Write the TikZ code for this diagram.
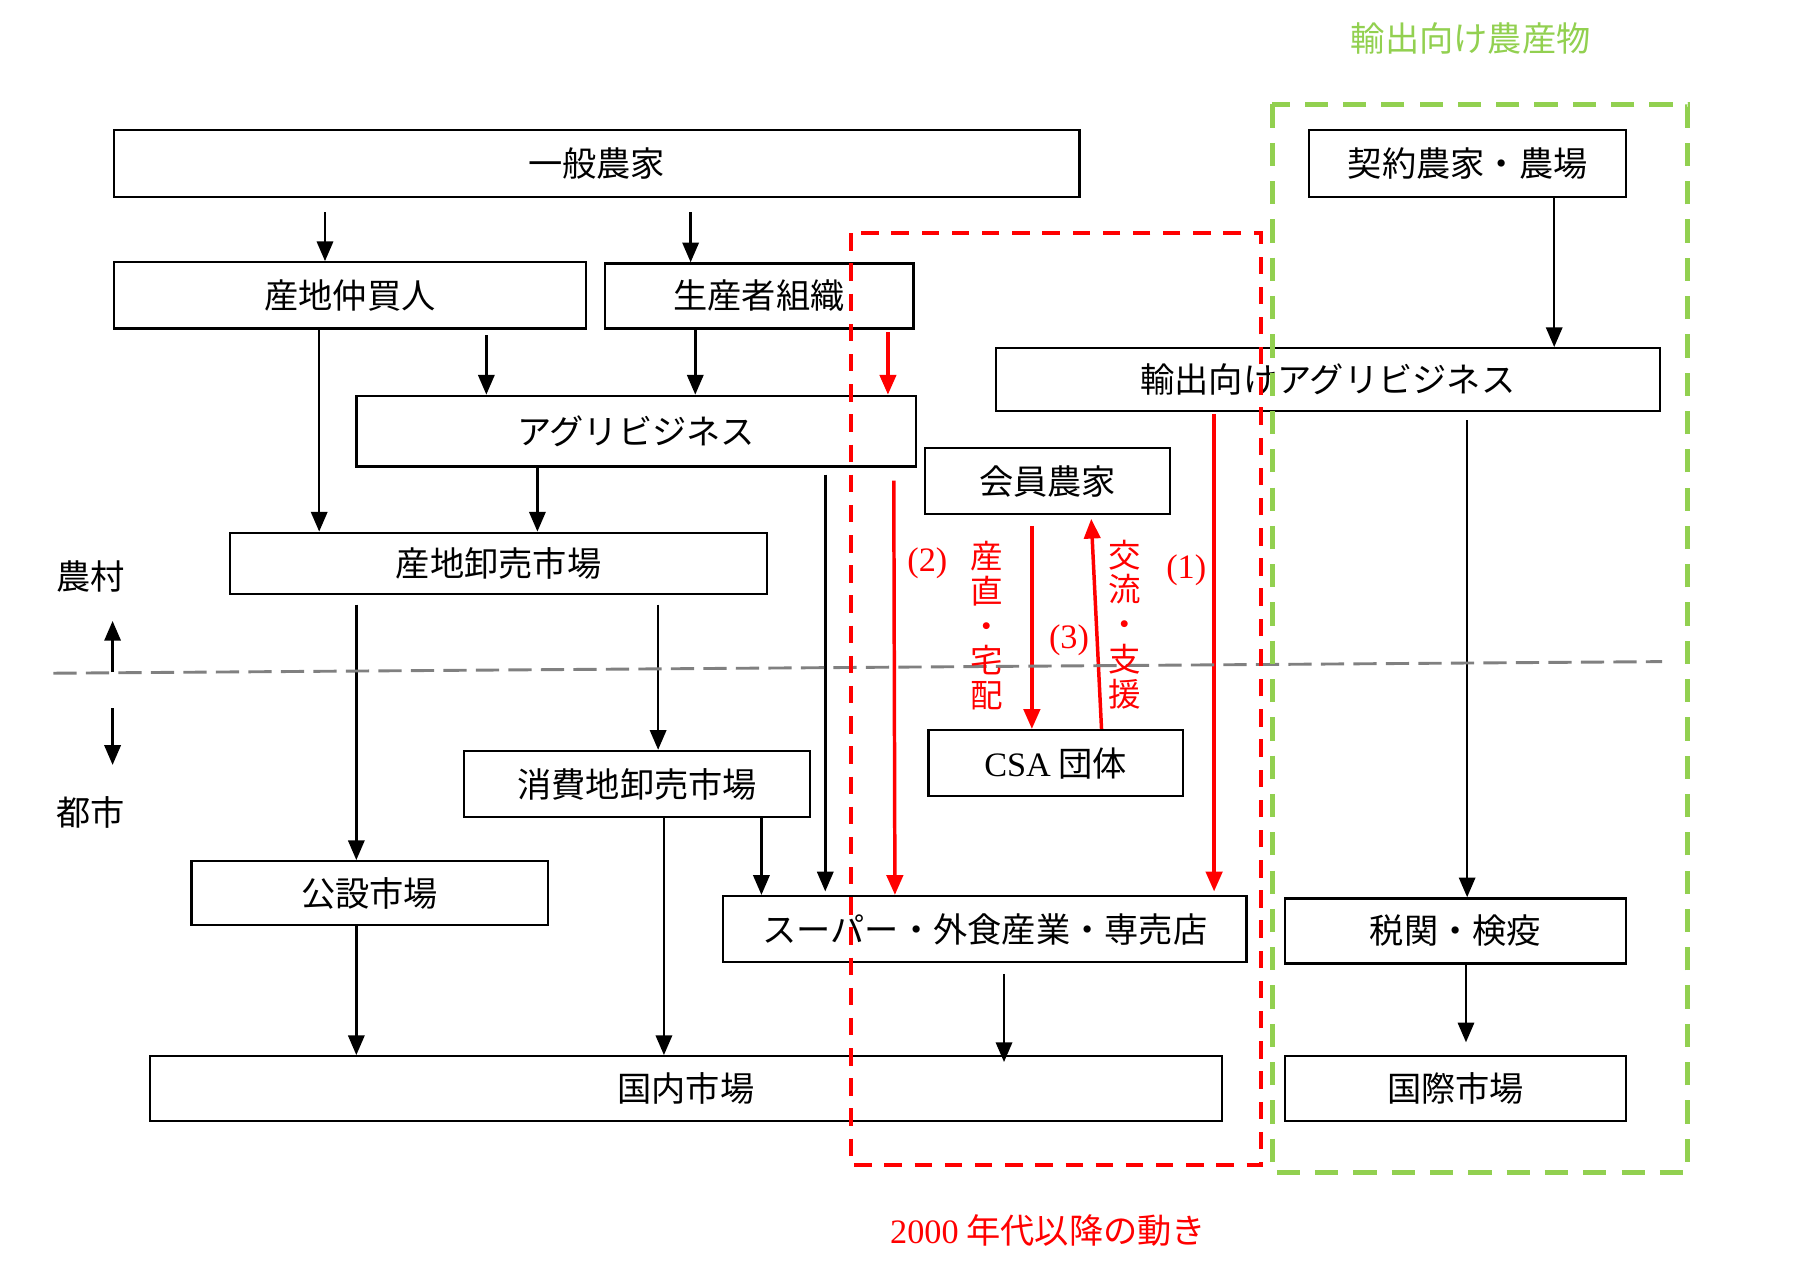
\documentclass[tikz,border=0pt]{standalone}
\usepackage{fontspec}
\setmainfont{Liberation Serif}
\newfontfamily\jp{Noto Sans CJK JP}
\usetikzlibrary{arrows.meta}
\definecolor{exgreen}{RGB}{146,208,80}
\definecolor{dgray}{RGB}{128,128,128}
\begin{document}
\begin{tikzpicture}[x=1pt,y=-1pt,
  box/.style={draw=black, line width=2pt, inner sep=0pt, font=\jp\fontsize{29.5}{34}\selectfont},
  arr/.style={draw=black, line width=2.2pt, -{Triangle[length=17pt,width=14pt]}},
  rarr/.style={draw=red, line width=3pt, -{Triangle[length=17pt,width=14pt]}},
  lbl/.style={font=\jp\fontsize{29.5}{34}\selectfont, inner sep=0pt},
  vlbl/.style={font=\jp\fontsize{28}{30}\selectfont, inner sep=0pt, align=center, text=red},
  ]
\path[use as bounding box] (0,0) rectangle (1568,1092);

% boxes
\node[box, minimum width=832pt, minimum height=58pt] (ippan) at (514,141) {一般農家};
\node[box, minimum width=407pt, minimum height=57pt] (nakagai) at (301.5,254.5) {産地仲買人};
\node[box, minimum width=266pt, minimum height=56pt] (seisan) at (654,255) {生産者組織};
\node[box, minimum width=482pt, minimum height=61pt] (agri) at (548,371.5) {アグリビジネス};
\node[box, minimum width=463pt, minimum height=53pt] (sanchi) at (429.5,485.5) {産地卸売市場};
\node[box, minimum width=298pt, minimum height=57pt] (shohi) at (549,675.5) {消費地卸売市場};
\node[box, minimum width=307pt, minimum height=55pt] (kosetsu) at (318.5,769.5) {公設市場};
\node[box, minimum width=451pt, minimum height=57pt] (super) at (848.5,800.5) {スーパー・外食産業・専売店};
\node[box, minimum width=924pt, minimum height=56pt] (kokunai) at (591,938) {国内市場};
\node[box, minimum width=273pt, minimum height=58pt] (keiyaku) at (1264.5,141) {契約農家・農場};
\node[box, minimum width=572pt, minimum height=54pt] (yushutsu) at (1144,327) {輸出向けアグリビジネス};
\node[box, minimum width=211pt, minimum height=57pt] (kaiin) at (902.5,414.5) {会員農家};
\node[box, minimum width=219pt, minimum height=57pt] (csa) at (909.5,657.5) {{\rmfamily CSA} 団体};
\node[box, minimum width=294pt, minimum height=56pt] (zeikan) at (1254,802) {税関・検疫};
\node[box, minimum width=294pt, minimum height=56pt] (kokusai) at (1254,938) {国際市場};

% black arrows
\draw[arr, shorten <=12pt] (ippan.south -| 280,0) -- (nakagai.north -| 280,0);
\draw[arr, shorten <=12pt] (ippan.south -| 595,0) -- (seisan.north -| 595,0);
\draw[arr] (nakagai.south -| 275,0) -- (sanchi.north -| 275,0);
\draw[arr, shorten <=5pt] (nakagai.south -| 419,0) -- (agri.north -| 419,0);
\draw[arr] (seisan.south -| 599,0) -- (agri.north -| 599,0);
\draw[arr] (agri.south -| 463,0) -- (sanchi.north -| 463,0);
\draw[arr, shorten <=8pt] (sanchi.south -| 307,0) -- (kosetsu.north -| 307,0);
\draw[arr, shorten <=8pt] (sanchi.south -| 567,0) -- (shohi.north -| 567,0);
\draw[arr, shorten <=6pt, shorten >=3pt] (agri.south -| 711,0) -- (super.north -| 711,0);
\draw[arr] (shohi.south -| 656,0) -- (super.north -| 656,0);
\draw[arr] (shohi.south -| 572,0) -- (kokunai.north -| 572,0);
\draw[arr] (kosetsu.south -| 307,0) -- (kokunai.north -| 307,0);
\draw[arr, shorten <=9pt, shorten >=-6pt] (super.south -| 865,0) -- (kokunai.north -| 865,0);
\draw[arr] (keiyaku.south -| 1339,0) -- (yushutsu.north -| 1339,0);
\draw[arr, shorten <=7pt] (yushutsu.south -| 1264,0) -- (zeikan.north -| 1264,0);
\draw[arr, shorten >=11pt] (zeikan.south -| 1263,0) -- (kokusai.north -| 1263,0);

% red arrows
\draw[rarr, shorten <=2pt] (seisan.south -| 765,0) -- (agri.north -| 765,0);
\draw[rarr, shorten <=11pt] (agri.south -| 770,0) -- (super.north -| 771,0);
\draw[rarr, shorten <=9pt] (kaiin.south -| 889,0) -- (csa.north -| 889,0);
\draw[rarr, shorten >=3pt] (csa.north -| 949,0) -- (kaiin.south -| 940,0);
\draw[rarr, shorten <=2pt, shorten >=3pt] (yushutsu.south -| 1046,0) -- (super.north -| 1046,0);

% rural / urban divider
\coordinate (divl) at (46,580);
\coordinate (divr) at (1432,570);
\draw[dgray, line width=2.5pt, dash pattern=on 20pt off 8pt] (divl) -- (divr);
\node[lbl] (noson) at (78,497) {農村};
\node[lbl] (toshi) at (78,700) {都市};
\coordinate (upfrom) at (97,579);
\coordinate (upto) at (97,535);
\coordinate (dnfrom) at (97,610);
\coordinate (dnto) at (97,659);
\draw[arr] (upfrom) -- (upto);
\draw[arr] (dnfrom) -- (dnto);

% group frames
\draw[red, line width=3.5pt, dash pattern=on 15pt off 11pt] (733,201) rectangle (1086,1004);
\draw[exgreen, line width=4.5pt, dash pattern=on 20pt off 13pt] (1096,90) rectangle (1454,1010);

% labels
\node[lbl, text=exgreen] (tgreen) at (1267,33) {輸出向け農産物};
\node[lbl, text=red] (tred) at (903,1060) {{\rmfamily 2000} 年代以降の動き};
\node[lbl, text=red] (l2) at (799,485) {\rmfamily (2)};
\node[lbl, text=red] (l1) at (1022,491) {\rmfamily (1)};
\node[lbl, text=red] (l3) at (921,552) {\rmfamily (3)};
\node[vlbl] (v1) at (850,539) {産\\直\\・\\宅\\配};
\node[vlbl] (v2) at (969,538) {交\\流\\・\\支\\援};
\end{tikzpicture}
\end{document}
